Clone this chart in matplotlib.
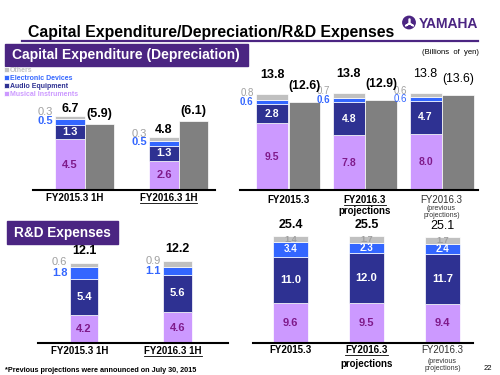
import numpy as np
import matplotlib.pyplot as plt
from matplotlib.patches import Rectangle, Circle
from matplotlib.lines import Line2D

plt.rcParams['font.family'] = ['Liberation Sans', 'DejaVu Sans']

# ---- data (billions of yen) ----
seg_names = ['Musical Instruments', 'Audio Equipment', 'Electronic Devices', 'Others']

half_cats = ['FY2015.3 1H', 'FY2016.3 1H']
year_cats = ['FY2015.3', 'FY2016.3', 'FY2016.3']
year_sub = ['', 'projections', '(previous\nprojections)']

capex_h_mi = [4.5, 2.6]
capex_h_audio = [1.3, 1.3]
capex_h_elec = [0.5, 0.5]
capex_h_other = [0.3, 0.3]
capex_h_total = [6.7, 4.8]
dep_h = [5.9, 6.1]

capex_y_mi = [9.5, 7.8, 8.0]
capex_y_audio = [2.8, 4.8, 4.7]
capex_y_elec = [0.6, 0.6, 0.6]
capex_y_other = [0.8, 0.7, 0.6]
capex_y_total = [13.8, 13.8, 13.8]
dep_y = [12.6, 12.9, 13.6]

rd_h_mi = [4.2, 4.6]
rd_h_audio = [5.4, 5.6]
rd_h_elec = [1.8, 1.1]
rd_h_other = [0.6, 0.9]
rd_h_total = [12.1, 12.2]

rd_y_mi = [9.6, 9.5, 9.4]
rd_y_audio = [11.0, 12.0, 11.7]
rd_y_elec = [3.4, 2.3, 2.4]
rd_y_other = [1.4, 1.7, 1.7]
rd_y_total = [25.4, 25.5, 25.1]

# ---- styles ----
C_MI, C_AU, C_EL, C_OT, C_DEP = '#cc99ff', '#2e3192', '#3366ff', '#c0c0c0', '#808080'
seg_colors = [C_MI, C_AU, C_EL, C_OT]
PURPLE = '#4b2582'
MI_TXT = '#7f1a8a'
OT_TXT = '#a0a0a0'
PX = 0.72  # points per pixel at 100 dpi

W, H = 500, 375
fig = plt.figure(figsize=(5, 3.75), dpi=100)

# overlay in pixel coords for slide decorations
ax0 = fig.add_axes([0, 0, 1, 1])
ax0.set_xlim(0, W)
ax0.set_ylim(H, 0)
ax0.axis('off')

ax0.text(28, 36.5, 'Capital Expenditure/Depreciation/R&D Expenses', fontsize=11.4,
         fontweight='bold', va='baseline', ha='left')
ax0.add_line(Line2D([22, 478], [41, 41], color=PURPLE, lw=1.6))
ax0.add_patch(Circle((409, 22.5), 6.2, color=PURPLE))
ax0.plot([409], [22.5], marker=(3, 2, 0), color='white', ms=7, mew=1.2)
ax0.text(478, 28, 'YAMAHA', fontsize=10, fontweight='bold', color=PURPLE,
         family=['Liberation Sans Narrow', 'Liberation Sans'], va='baseline', ha='right')
ax0.text(479, 52, '(Billions  of  yen)', fontsize=5.5, ha='right', va='center')

ax0.add_patch(Rectangle((5, 44), 243, 22, color=PURPLE))
ax0.text(12, 55.5, 'Capital Expenditure (Depreciation)', fontsize=10, fontweight='bold',
         color='white', va='center', ha='left')
ax0.add_patch(Rectangle((7, 221), 111, 23, color=PURPLE))
ax0.text(14, 233, 'R&D Expenses', fontsize=9.8, fontweight='bold',
         color='white', va='center', ha='left')
ax0.text(5, 370, '*Previous projections were announced on July 30, 2015', fontsize=5.2,
         fontweight='bold', va='center', ha='left')
ax0.text(488, 368, '22', fontsize=5.5, va='center', ha='center')


def add_ax(x0, y0, x1, y1, xlim, ylim):
    ax = fig.add_axes([x0 / W, 1 - y1 / H, (x1 - x0) / W, (y1 - y0) / H])
    ax.set_xlim(xlim)
    ax.set_ylim(ylim)
    for s in ['top', 'right', 'left']:
        ax.spines[s].set_visible(False)
    ax.spines['bottom'].set_linewidth(1.5)
    ax.set_xticks([])
    ax.set_yticks([])
    ax.patch.set_alpha(0)
    return ax


def put(ax, s, x, y, dx=0, dy=0, **kw):
    kw.setdefault('ha', 'center')
    kw.setdefault('va', 'center')
    return ax.annotate(s, (x, y), xytext=(dx * PX, dy * PX), textcoords='offset points', **kw)


def stack(ax, segs, totals, width, fs_seg, fs_tot, tot_dy, outside, other_dy, elec_dy, fs_small):
    x = np.arange(len(totals))
    bottom = np.zeros(len(x))
    bars = []
    for k, vals in enumerate(segs):
        vals = np.array(vals)
        bars.append(ax.bar(x, vals, width, bottom=bottom, color=seg_colors[k],
                           edgecolor='white', linewidth=0.5, label=seg_names[k]))
        for i, v in enumerate(vals):
            ym = bottom[i] + v / 2
            if k == 0:
                put(ax, f'{v:.1f}', x[i], ym, color=MI_TXT, fontweight='bold', fontsize=fs_seg)
            elif k == 1:
                put(ax, f'{v:.1f}', x[i], ym, color='white', fontweight='bold', fontsize=fs_seg)
            elif outside:
                col = C_EL if k == 2 else OT_TXT
                dy = elec_dy if k == 2 else other_dy
                put(ax, f'{v:.1f}', x[i] - width / 2, ym, dx=-2.5, dy=dy, ha='right',
                    color=col, fontsize=fs_small, fontweight='bold' if k == 2 and i < 2 else 'normal')
            else:
                col = 'white' if k == 2 else OT_TXT
                put(ax, f'{v:.1f}', x[i], ym, color=col, fontweight='bold',
                    fontsize=fs_small if k == 2 else fs_small - 0.5)
        bottom += vals
    for i, t in enumerate(totals):
        put(ax, f'{t:.1f}', x[i], bottom[i], dy=tot_dy, fontsize=fs_tot,
            fontweight='normal' if i == 2 else 'bold')
    return bars


def dep_bars(ax, dep, off, width, fs, dy):
    x = np.arange(len(dep)) + off
    ax.bar(x, dep, width, color=C_DEP, edgecolor='white', linewidth=0.5)
    for i, d in enumerate(dep):
        put(ax, f'({d:.1f})', x[i], d, dy=dy, fontsize=fs,
            fontweight='normal' if i == 2 else 'bold')


underlined = []


def cat_labels(ax, cats, subs, shift, dy, sub_dy):
    for i, c in enumerate(cats):
        if i == 2:
            put(ax, c, i + shift, 0, dy=-dy, fontsize=7, color='#333333')
            put(ax, subs[i], i + shift, 0, dy=-sub_dy - 1, fontsize=5, color='#333333',
                linespacing=0.95)
        else:
            t = put(ax, c, i + shift, 0, dy=-dy, fontsize=7, fontweight='bold')
            if i == 1:
                underlined.append(t)
            if subs and subs[i]:
                put(ax, subs[i], i + shift, 0, dy=-sub_dy, fontsize=7, fontweight='bold')


# Capital expenditure, first half
ax1 = add_ax(33, 100, 215, 190, (-0.394, 1.543), (0, 8))
bars = stack(ax1, [capex_h_mi, capex_h_audio, capex_h_elec, capex_h_other], capex_h_total,
             0.31, 8, 9, 7, True, 5, 1, 8)
dep_bars(ax1, dep_h, 0.31, 0.31, 9, 10)
cat_labels(ax1, half_cats, None, 0.05, 8, 0)

# Capital expenditure, full year
ax2 = add_ax(240, 80, 478, 190, (-0.417, 2.684), (0, 15.7))
stack(ax2, [capex_y_mi, capex_y_audio, capex_y_elec, capex_y_other], capex_y_total,
      0.417, 7.5, 9, 19, True, 4, 0, 7)
dep_bars(ax2, dep_y, 0.423, 0.41, 8.8, 16)
cat_labels(ax2, year_cats, year_sub, 0.21, 10, 21)

# R&D, first half
ax3 = add_ax(38, 250, 228, 343, (-0.492, 1.54), (0, 13.9))
stack(ax3, [rd_h_mi, rd_h_audio, rd_h_elec, rd_h_other], rd_h_total,
      0.3, 8, 9, 12, True, 3, 0, 8)
cat_labels(ax3, half_cats, None, -0.05, 8, 0)

# R&D, full year
ax4 = add_ax(253, 220, 473, 343, (-0.493, 2.40), (0, 29.3))
stack(ax4, [rd_y_mi, rd_y_audio, rd_y_elec, rd_y_other], rd_y_total,
      0.46, 8, 9, 11, False, 0, 0, 7)
cat_labels(ax4, year_cats, year_sub, 0.0, 7, 21)

# legend (Others on top)
handles = [b for b in bars][::-1]
leg = fig.legend(handles, seg_names[::-1], loc='upper left', bbox_to_anchor=(4 / W, 1 - 67 / H),
                 frameon=False, fontsize=5, handlelength=0.7, handleheight=0.8,
                 handletextpad=0.2, labelspacing=0.12, borderpad=0, borderaxespad=0)
for txt, col in zip(leg.get_texts(), [C_OT, C_EL, C_AU, C_MI]):
    txt.set_color(col)
    txt.set_fontweight('bold')

# underline the current-year labels
fig.canvas.draw()
r = fig.canvas.get_renderer()
inv = ax0.transData.inverted()
for t in underlined:
    bb = t.get_window_extent(r)
    (x0, y0), (x1, _) = inv.transform([(bb.x0, bb.y0), (bb.x1, bb.y0)])
    ax0.add_line(Line2D([x0, x1], [y0 - 0.5, y0 - 0.5], color='black', lw=0.6))

fig.savefig('out.png', dpi=100)
